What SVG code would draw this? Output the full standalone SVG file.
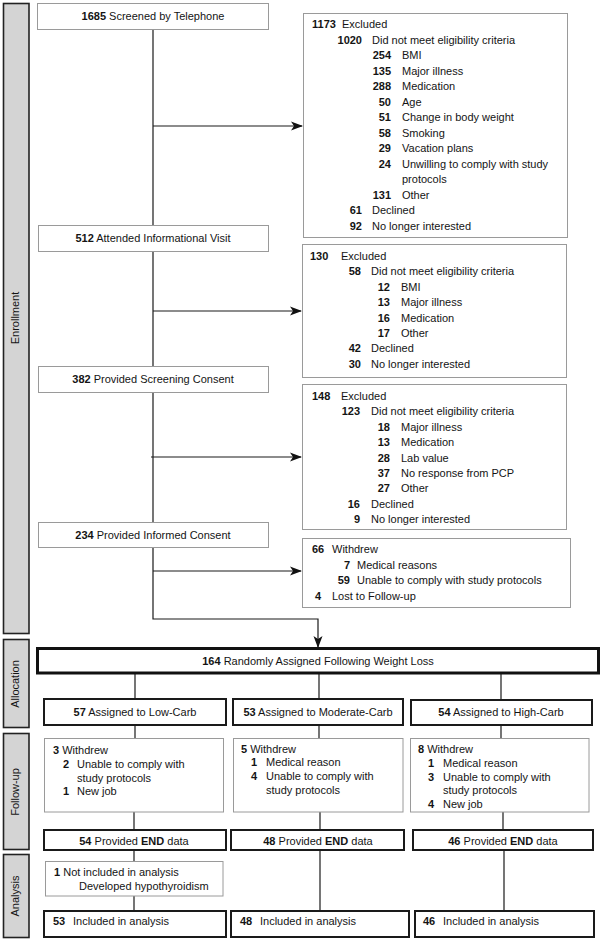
<svg xmlns="http://www.w3.org/2000/svg" width="605" height="942" viewBox="0 0 605 942">
<defs>
<style>
text{font-family:"Liberation Sans",Arial,sans-serif;font-size:11px;fill:#141414}
.b{font-weight:bold}
.bar{fill:#d4d4d4;stroke:#222;stroke-width:1.6}
.lb{fill:#fff;stroke:#9a9a9a;stroke-width:1}
.hb{fill:#fff;stroke:#1a1a1a;stroke-width:2}
.big{fill:#fff;stroke:#111;stroke-width:3}
.c{fill:none;stroke:#1a1a1a;stroke-width:1.2}
.m{text-anchor:middle}
.e{text-anchor:end}
</style>
<marker id="ar" viewBox="0 0 12 10" refX="11" refY="5" markerWidth="12" markerHeight="10" markerUnits="userSpaceOnUse" orient="auto">
<path d="M0,0.5 L12,5 L0,9.5 L3,5 z" fill="#111"/>
</marker>
</defs>

<g id="phase-bars">
<rect class="bar" x="3.5" y="3.5" width="25.5" height="630"/>
<text class="m" transform="translate(18.5,318) rotate(-90)">Enrollment</text>
<rect class="bar" x="3.5" y="639.5" width="25.5" height="88"/>
<text class="m" transform="translate(18.5,684) rotate(-90)">Allocation</text>
<rect class="bar" x="3.5" y="733.5" width="25.5" height="116"/>
<text class="m" transform="translate(18.5,792) rotate(-90)">Follow-up</text>
<rect class="bar" x="3.5" y="854.5" width="25.5" height="83"/>
<text class="m" transform="translate(18.5,896) rotate(-90)">Analysis</text>
</g>

<g id="connectors">
<line class="c" x1="153" y1="29" x2="153" y2="225"/>
<line class="c" x1="153" y1="126" x2="302" y2="126" marker-end="url(#ar)"/>
<line class="c" x1="153" y1="251" x2="153" y2="366"/>
<line class="c" x1="153" y1="311" x2="301" y2="311" marker-end="url(#ar)"/>
<line class="c" x1="153" y1="392" x2="153" y2="522"/>
<line class="c" x1="151" y1="457" x2="301" y2="457" marker-end="url(#ar)"/>
<polyline class="c" points="153,547 153,619 318,619 318,647" marker-end="url(#ar)"/>
<line class="c" x1="153" y1="571" x2="301" y2="571" marker-end="url(#ar)"/>
<line class="c" x1="135" y1="673" x2="135" y2="699"/>
<line class="c" x1="319" y1="673" x2="319" y2="699"/>
<line class="c" x1="501" y1="673" x2="501" y2="699"/>
<line class="c" x1="135" y1="725" x2="135" y2="739"/>
<line class="c" x1="319" y1="725" x2="319" y2="739"/>
<line class="c" x1="501" y1="725" x2="501" y2="739"/>
<line class="c" x1="134" y1="812" x2="134" y2="830"/>
<line class="c" x1="320" y1="812" x2="320" y2="830"/>
<line class="c" x1="503" y1="812" x2="503" y2="829"/>
<line class="c" x1="134" y1="850" x2="134" y2="861"/>
<line class="c" x1="134" y1="896" x2="134" y2="911"/>
<line class="c" x1="320" y1="850" x2="320" y2="911"/>
<line class="c" x1="504" y1="850" x2="504" y2="911"/>
</g>

<g id="screened">
<rect class="lb" x="37.5" y="3.5" width="231" height="26"/>
<text class="m" x="153" y="20"><tspan class="b">1685</tspan> Screened by Telephone</text>
</g>
<g id="excluded1">
<rect class="lb" x="303.5" y="13.5" width="264" height="224"/>
<text x="312" y="28"><tspan class="b">1173</tspan></text><text x="342" y="28">Excluded</text>
<text class="e b" x="362" y="43.5">1020</text><text x="372" y="43.5">Did not meet eligibility criteria</text>
<text class="e b" x="391" y="59">254</text><text x="402" y="59">BMI</text>
<text class="e b" x="391" y="74.5">135</text><text x="402" y="74.5">Major illness</text>
<text class="e b" x="391" y="90">288</text><text x="402" y="90">Medication</text>
<text class="e b" x="391" y="105.5">50</text><text x="402" y="105.5">Age</text>
<text class="e b" x="391" y="121">51</text><text x="402" y="121">Change in body weight</text>
<text class="e b" x="391" y="136.5">58</text><text x="402" y="136.5">Smoking</text>
<text class="e b" x="391" y="152">29</text><text x="402" y="152">Vacation plans</text>
<text class="e b" x="391" y="167.5">24</text><text x="402" y="167.5">Unwilling to comply with study</text>
<text x="402" y="183">protocols</text>
<text class="e b" x="391" y="198.5">131</text><text x="402" y="198.5">Other</text>
<text class="e b" x="362" y="214">61</text><text x="372" y="214">Declined</text>
<text class="e b" x="362" y="229.5">92</text><text x="372" y="229.5">No longer interested</text>
</g>

<g id="attended">
<rect class="lb" x="38.5" y="225.5" width="230" height="26"/>
<text class="m" x="153" y="242"><tspan class="b">512</tspan> Attended Informational Visit</text>
</g>
<g id="excluded2">
<rect class="lb" x="302.5" y="244.5" width="264" height="133"/>
<text class="b" x="310" y="260">130</text><text x="341" y="260">Excluded</text>
<text class="e b" x="361" y="275.4">58</text><text x="371" y="275.4">Did not meet eligibility criteria</text>
<text class="e b" x="390" y="290.8">12</text><text x="401" y="290.8">BMI</text>
<text class="e b" x="390" y="306.2">13</text><text x="401" y="306.2">Major illness</text>
<text class="e b" x="390" y="321.6">16</text><text x="401" y="321.6">Medication</text>
<text class="e b" x="390" y="337">17</text><text x="401" y="337">Other</text>
<text class="e b" x="361" y="352.4">42</text><text x="371" y="352.4">Declined</text>
<text class="e b" x="361" y="367.8">30</text><text x="371" y="367.8">No longer interested</text>
</g>

<g id="screening-consent">
<rect class="lb" x="38.5" y="366.5" width="230" height="26"/>
<text class="m" x="153" y="383"><tspan class="b">382</tspan> Provided Screening Consent</text>
</g>
<g id="excluded3">
<rect class="lb" x="302.5" y="384.5" width="264" height="145"/>
<text class="b" x="312" y="400">148</text><text x="341" y="400">Excluded</text>
<text class="e b" x="360" y="415.4">123</text><text x="371" y="415.4">Did not meet eligibility criteria</text>
<text class="e b" x="390" y="430.8">18</text><text x="401" y="430.8">Major illness</text>
<text class="e b" x="390" y="446.2">13</text><text x="401" y="446.2">Medication</text>
<text class="e b" x="390" y="461.6">28</text><text x="401" y="461.6">Lab value</text>
<text class="e b" x="390" y="477">37</text><text x="401" y="477">No response from PCP</text>
<text class="e b" x="390" y="492.4">27</text><text x="401" y="492.4">Other</text>
<text class="e b" x="360" y="507.8">16</text><text x="371" y="507.8">Declined</text>
<text class="e b" x="360" y="523.2">9</text><text x="371" y="523.2">No longer interested</text>
</g>

<g id="informed-consent">
<rect class="lb" x="38.5" y="522.5" width="230" height="25"/>
<text class="m" x="153" y="539"><tspan class="b">234</tspan> Provided Informed Consent</text>
</g>
<g id="withdrew">
<rect class="lb" x="302.5" y="538.5" width="268" height="69"/>
<text class="b" x="312" y="553">66</text><text x="332" y="553">Withdrew</text>
<text class="e b" x="350" y="568.5">7</text><text x="357" y="568.5">Medical reasons</text>
<text class="e b" x="350" y="584">59</text><text x="357" y="584">Unable to comply with study protocols</text>
<text class="b" x="315" y="599.5">4</text><text x="332" y="599.5">Lost to Follow-up</text>
</g>

<g id="randomized">
<rect class="big" x="37.5" y="648.5" width="561" height="24.5"/>
<text class="m" x="318" y="664.5"><tspan class="b">164</tspan> Randomly Assigned Following Weight Loss</text>
</g>

<g id="low-carb">
<rect class="hb" x="44" y="699" width="182" height="26"/>
<text class="m" x="135" y="715.5"><tspan class="b">57</tspan> Assigned to Low-Carb</text>
</g>
<g id="moderate-carb">
<rect class="hb" x="233" y="699" width="170" height="26"/>
<text class="m" x="318" y="715.5"><tspan class="b">53</tspan> Assigned to Moderate-Carb</text>
</g>
<g id="high-carb">
<rect class="hb" x="411" y="700" width="181" height="25"/>
<text class="m" x="501" y="715.5"><tspan class="b">54</tspan> Assigned to High-Carb</text>
</g>

<g id="followup-low">
<rect class="lb" x="44.5" y="738.5" width="179" height="73.5"/>
<text x="53" y="754"><tspan class="b">3</tspan> Withdrew</text>
<text class="b" x="63" y="768">2</text><text x="77" y="768">Unable to comply with</text>
<text x="77" y="781.5">study protocols</text>
<text class="b" x="63" y="795">1</text><text x="77" y="795">New job</text>
</g>
<g id="followup-moderate">
<rect class="lb" x="233.5" y="738.5" width="169.5" height="73.5"/>
<text x="241" y="752.5"><tspan class="b">5</tspan> Withdrew</text>
<text class="b" x="251" y="766">1</text><text x="266" y="766">Medical reason</text>
<text class="b" x="251" y="780">4</text><text x="266" y="780">Unable to comply with</text>
<text x="266" y="793.5">study protocols</text>
</g>
<g id="followup-high">
<rect class="lb" x="410.5" y="738.5" width="178.5" height="73.5"/>
<text x="418" y="753"><tspan class="b">8</tspan> Withdrew</text>
<text class="b" x="428" y="767">1</text><text x="443" y="767">Medical reason</text>
<text class="b" x="428" y="781">3</text><text x="443" y="781">Unable to comply with</text>
<text x="443" y="794">study protocols</text>
<text class="b" x="428" y="807.5">4</text><text x="443" y="807.5">New job</text>
</g>

<g id="end-low">
<rect class="hb" x="44" y="830" width="182" height="20"/>
<text class="m" x="134" y="844.5"><tspan class="b">54</tspan> Provided <tspan class="b">END</tspan> data</text>
</g>
<g id="end-moderate">
<rect class="hb" x="231" y="830" width="173" height="20"/>
<text class="m" x="318" y="844.5"><tspan class="b">48</tspan> Provided <tspan class="b">END</tspan> data</text>
</g>
<g id="end-high">
<rect class="hb" x="413" y="830" width="180" height="20"/>
<text class="m" x="503" y="844.5"><tspan class="b">46</tspan> Provided <tspan class="b">END</tspan> data</text>
</g>

<g id="not-included">
<rect class="lb" x="45.5" y="861.5" width="177.5" height="34.5"/>
<text x="54" y="876"><tspan class="b">1</tspan> Not included in analysis</text>
<text x="79" y="890">Developed hypothyroidism</text>
</g>

<g id="included-low">
<rect class="hb" x="44" y="911" width="182" height="26"/>
<text class="b" x="53" y="925">53</text><text x="73" y="925">Included in analysis</text>
</g>
<g id="included-moderate">
<rect class="hb" x="231" y="911" width="178" height="26"/>
<text class="b" x="240" y="925">48</text><text x="260" y="925">Included in analysis</text>
</g>
<g id="included-high">
<rect class="hb" x="415" y="911" width="179" height="26"/>
<text class="b" x="423" y="925">46</text><text x="443" y="925">Included in analysis</text>
</g>
</svg>
